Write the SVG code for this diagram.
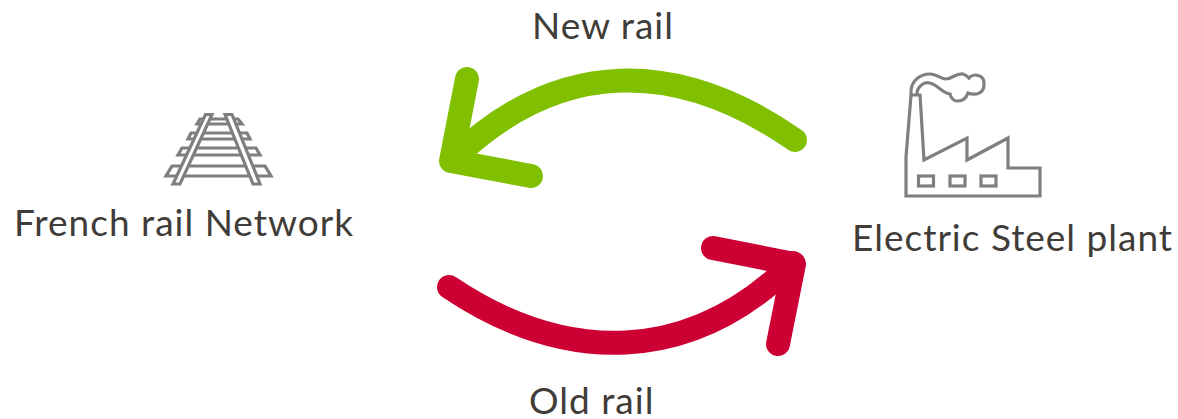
<svg xmlns="http://www.w3.org/2000/svg" width="1178" height="419" viewBox="0 0 1178 419">
<style>
.t{font-family:Lato,"Liberation Sans",sans-serif;font-size:37px;letter-spacing:1px;fill:#403c38}
.a{fill:none;stroke-width:24;stroke-linecap:round;stroke-linejoin:round}
.i{fill:#fff;stroke:#7f7f7f;stroke-width:3.200;stroke-linejoin:miter}
.n{fill:none;stroke:#7f7f7f;stroke-width:3.200}
</style>
<g id="connectors">
<g id="new-rail-arrow" stroke="#80c000" class="a">
<path d="M795 140C680 60 560 55 452 160"/>
<path d="M467 79L451 161L531 176"/>
</g>
<g id="old-rail-arrow" stroke="#cc0033" class="a">
<path d="M449 287C565 365 690 365 793 263"/>
<path d="M713 248L794 264L778 344"/>
</g>
</g>
<g id="french-rail-network">
<g id="rail-icon">
<path class="i" d="M200 119H238L242 124H197ZM191 133H247L250 139H188ZM182 148H256L260 155H178ZM172 166H265L271 176H166Z"/>
<path class="i" d="M205.500 114.500H212L180 184H173Z"/>
<path class="i" d="M225 114.500H232L260 184H253Z"/>
</g>
<text class="t" x="14" y="236">French rail Network</text>
</g>
<g id="electric-steel-plant">
<g id="factory-icon">
<path class="i" d="M906 196V157L911 95H920L924 160L967 138V160L1008 138V168H1040V196Z"/>
<path class="n" d="M911 94C910 81 920 74 930 74C937 74 941 79 946 79C952 79 956 73 963 74C966 75 968 77 969 78C973 73 985 74 984 85C984 93 976 96 968 93C965 103 952 104 950 94C942 93 938 85 930 83C924 81 917 87 917 94"/>
<rect class="i" x="918.500" y="176" width="15" height="10"/>
<rect class="i" x="950" y="176" width="15" height="10"/>
<rect class="i" x="981" y="176" width="15" height="10"/>
</g>
<text class="t" x="852" y="251">Electric Steel plant</text>
</g>
<text id="new-rail" class="t" x="532" y="39">New rail</text>
<text id="old-rail" class="t" x="529" y="414">Old rail</text>
</svg>
